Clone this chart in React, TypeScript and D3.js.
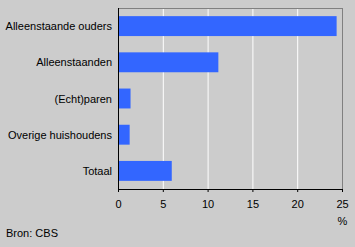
import React from "react";
import * as d3 from "d3";

const categories = ["Alleenstaande ouders", "Alleenstaanden", "(Echt)paren", "Overige huishoudens", "Totaal"];
const values = [24.4, 11.2, 1.4, 1.3, 6.0];
const ticks = [0, 5, 10, 15, 20, 25];

export default function App() {
  const W = 355, H = 247;
  const left = 118, right = 342, top = 8, bottom = 189;
  const x = d3.scaleLinear().domain([0, 25]).range([left, right]);
  const y = d3.scaleBand<string>().domain(categories).range([top, bottom]).paddingInner(0.45).paddingOuter(0.225);
  const font = "'Liberation Sans', Arial, sans-serif";
  const fs = 11;
  return (
    <svg width={W} height={H} style={{ position: "absolute", left: 0, top: 0 }} fontFamily={font}>
      <rect x={0} y={0} width={W} height={H} fill="#cccccc" />
      {ticks.slice(1, -1).map((t) => (
        <line key={t} x1={x(t) + 0.5} x2={x(t) + 0.5} y1={top} y2={bottom} stroke="#ffffff" strokeWidth={1} />
      ))}
      <line x1={left} x2={right + 0.5} y1={top + 0.5} y2={top + 0.5} stroke="#808080" />
      <line x1={right + 0.5} x2={right + 0.5} y1={top} y2={bottom} stroke="#808080" />
      {categories.map((c, i) => (
        <g key={c}>
          <rect x={x(0)} y={y(c)} width={x(values[i]) - x(0)} height={y.bandwidth()} fill="#3366ff" />
          <text x={112} y={(y(c) as number) + y.bandwidth() / 2 + 4} textAnchor="end" fontSize={fs} fill="#000">{c}</text>
        </g>
      ))}
      <line x1={left + 0.5} x2={left + 0.5} y1={top} y2={bottom + 0.5} stroke="#000" />
      <line x1={left} x2={right + 1} y1={bottom + 0.5} y2={bottom + 0.5} stroke="#000" />
      {ticks.map((t) => (
        <g key={t}>
          <line x1={x(t) + 0.5} x2={x(t) + 0.5} y1={bottom} y2={bottom + 3} stroke="#000" />
          <text x={x(t) + 0.5} y={208} textAnchor="middle" fontSize={fs} fill="#000">{t}</text>
        </g>
      ))}
      <text x={x(25) + 0.5} y={225} textAnchor="middle" fontSize={fs} fill="#000">%</text>
      <text x={6} y={237} fontSize={fs} fill="#000">Bron: CBS</text>
    </svg>
  );
}
